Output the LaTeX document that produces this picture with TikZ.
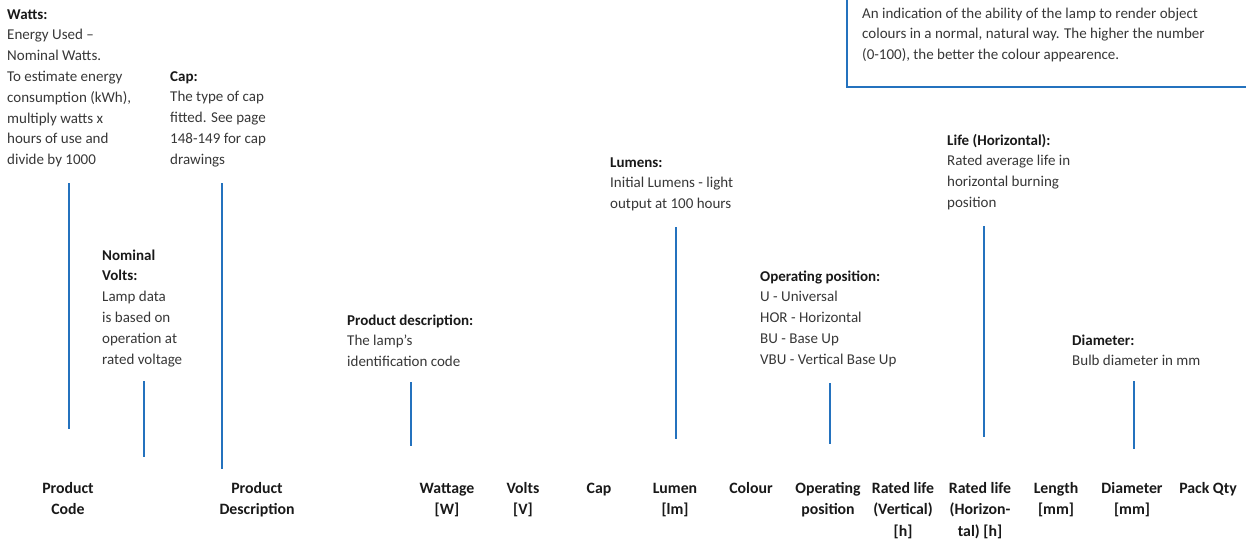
\documentclass[tikz,border=0pt]{standalone}
\usepackage{fontspec}
\setmainfont{Carlito}
\definecolor{geblue}{RGB}{36,114,190}
\definecolor{txt}{RGB}{55,55,55}
\definecolor{hdr}{RGB}{25,25,25}
\begin{document}
\begin{tikzpicture}[x=1pt,y=-1pt,
  desc/.style={anchor=base west, align=left, inner sep=0pt, text=txt, font=\fontsize{15}{20.8}\selectfont},
  hdrcell/.style={anchor=base, align=center, inner sep=0pt, text=hdr, font=\fontsize{15.8}{21.5}\selectfont\bfseries},
  lead/.style={draw=geblue, line width=1.5pt},
  boxline/.style={draw=geblue, line width=1.3pt}]
\useasboundingbox (0,0) rectangle (1246,544);

% top-right explanation box (cut by the page edge)
\begin{scope}
  \clip (0,0) rectangle (1246,544);
  \draw[boxline] (847,-10) rectangle (1260,87);
\end{scope}
% node positions are given at the baseline of the last line
\node[desc] (cri) at (862,59.6) {An indication of the ability of the lamp to render object\\colours in a normal, natural way. The higher the number\\(0-100), the better the colour appearence.};

% description blocks
\node[desc] (watts) at (7,164.6) {\textbf{\color{hdr}Watts:}\\Energy Used –\\Nominal Watts.\\To estimate energy\\consumption (kWh),\\multiply watts x\\hours of use and\\divide by 1000};
\node[desc] (cap) at (170,164.2) {\textbf{\color{hdr}Cap:}\\The type of cap\\fitted. See page\\148-149 for cap\\drawings};
\node[desc] (volts) at (102,364) {\textbf{\color{hdr}Nominal}\\\textbf{\color{hdr}Volts:}\\Lamp data\\is based on\\operation at\\rated voltage};
\node[desc] (pdesc) at (347,366.6) {\textbf{\color{hdr}Product description:}\\The lamp’s\\identification code};
\node[desc] (lumens) at (610,208.6) {\textbf{\color{hdr}Lumens:}\\Initial Lumens - light\\output at 100 hours};
\node[desc] (oppos) at (760,364.2) {\textbf{\color{hdr}Operating position:}\\U - Universal\\HOR - Horizontal\\BU - Base Up\\VBU - Vertical Base Up};
\node[desc] (life) at (947,207.4) {\textbf{\color{hdr}Life (Horizontal):}\\Rated average life in\\horizontal burning\\position};
\node[desc] (diam) at (1072,365.8) {\textbf{\color{hdr}Diameter:}\\Bulb diameter in mm};

% column headers (positions at the baseline of the last line)
\node[hdrcell] (hcode) at (68,514.5) {Product\\Code};
\node[hdrcell] (hdesc) at (257,514.5) {Product\\Description};
\node[hdrcell] (hwatt) at (447,514.5) {Wattage\\{[W]}};
\node[hdrcell] (hvolt) at (523,514.5) {Volts\\{[V]}};
\node[hdrcell] (hcap) at (599,493) {Cap};
\node[hdrcell] (hlum) at (675,514.5) {Lumen\\{[lm]}};
\node[hdrcell] (hcol) at (751,493) {Colour};
\node[hdrcell] (hop) at (828,514.5) {Operating\\position};
\node[hdrcell] (hlv) at (903,536) {Rated life\\(Vertical)\\{[h]}};
\node[hdrcell] (hlh) at (980,536) {Rated life\\(Horizon-\\tal) [h]};
\node[hdrcell] (hlen) at (1056,514.5) {Length\\{[mm]}};
\node[hdrcell] (hdia) at (1132,514.5) {Diameter\\{[mm]}};
\node[hdrcell] (hpack) at (1208,493) {Pack Qty};

% leader lines
\coordinate (w1) at (69,183);   \coordinate (w2) at (69,429);
\coordinate (c1) at (222,183);  \coordinate (c2) at (222,469);
\coordinate (v1) at (144,381);  \coordinate (v2) at (144,457);
\coordinate (p1) at (411,382);  \coordinate (p2) at (411,446);
\coordinate (l1) at (676,227);  \coordinate (l2) at (676,439);
\coordinate (o1) at (830,383);  \coordinate (o2) at (830,444);
\coordinate (h1) at (984,226);  \coordinate (h2) at (984,437);
\coordinate (d1) at (1134,381); \coordinate (d2) at (1134,449);
\draw[lead] (w1) -- (w2);
\draw[lead] (c1) -- (c2);
\draw[lead] (v1) -- (v2);
\draw[lead] (p1) -- (p2);
\draw[lead] (l1) -- (l2);
\draw[lead] (o1) -- (o2);
\draw[lead] (h1) -- (h2);
\draw[lead] (d1) -- (d2);
\end{tikzpicture}
\end{document}
